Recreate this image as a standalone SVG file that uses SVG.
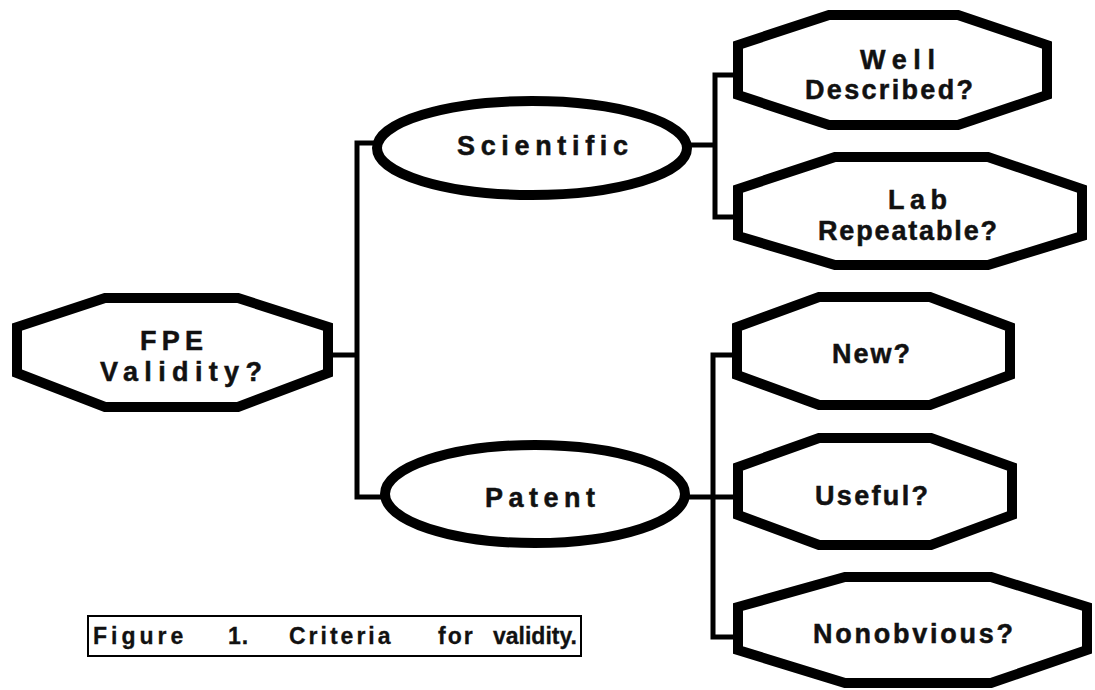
<svg xmlns="http://www.w3.org/2000/svg" width="1095" height="690" viewBox="0 0 1095 690">
<style>
.shape{fill:#fff;stroke:#000;stroke-width:10;stroke-linejoin:miter}
.t{font-family:"Liberation Sans",Arial,sans-serif;font-weight:bold;font-size:27px;fill:#111;stroke:#111;stroke-width:0.5}
.c{stroke:#000;stroke-width:5;fill:none}
.cap{font-family:"Liberation Sans",Arial,sans-serif;font-weight:bold;font-size:23px;fill:#111;stroke:#111;stroke-width:0.3}
</style>
<rect width="1095" height="690" fill="#fff"/>
<g id="connectors">
<line class="c" x1="333" y1="355" x2="359" y2="355" stroke-width="6"/>
<polyline class="c" points="380,143 357,143 357,497 385,497"/>
<line class="c" x1="687" y1="145" x2="715" y2="145"/>
<polyline class="c" points="740,75 715,75 715,217 740,217"/>
<line class="c" x1="687" y1="497" x2="740" y2="497"/>
<polyline class="c" points="740,355 713,355 713,637 740,637"/>
</g>
<g id="fpe">
<polygon class="shape" points="105,298 238,298 328,327 328,373 238,407 105,407 17,373 17,327"/>
<text class="t" x="140" y="350" textLength="63" lengthAdjust="spacing">FPE</text>
<text class="t" x="100" y="381" textLength="162" lengthAdjust="spacing">Validity?</text>
</g>
<g id="scientific">
<ellipse class="shape" cx="532" cy="148" rx="155" ry="47"/>
<text class="t" x="457" y="155" textLength="171" lengthAdjust="spacing">Scientific</text>
</g>
<g id="patent">
<ellipse class="shape" cx="535" cy="494" rx="150" ry="49"/>
<text class="t" x="485" y="507" textLength="110" lengthAdjust="spacing">Patent</text>
</g>
<g id="well-described">
<polygon class="shape" points="829,15 958,15 1047,45 1047,95 958,125 829,125 738,95 738,45"/>
<text class="t" x="860" y="69" textLength="75" lengthAdjust="spacing">Well</text>
<text class="t" x="805" y="99" textLength="168" lengthAdjust="spacing">Described?</text>
</g>
<g id="lab-repeatable">
<polygon class="shape" points="835,157 988,157 1082,189 1082,236 988,265 835,265 738,236 738,189"/>
<text class="t" x="888" y="209" textLength="59" lengthAdjust="spacing">Lab</text>
<text class="t" x="818" y="240" textLength="179" lengthAdjust="spacing">Repeatable?</text>
</g>
<g id="new">
<polygon class="shape" points="819,297 930,297 1010,327 1010,375 930,405 819,405 737,375 737,327"/>
<text class="t" x="832" y="363" textLength="78" lengthAdjust="spacing">New?</text>
</g>
<g id="useful">
<polygon class="shape" points="819,438 931,438 1012,467 1012,515 931,545 819,545 738,515 738,467"/>
<text class="t" x="815" y="505" textLength="113" lengthAdjust="spacing">Useful?</text>
</g>
<g id="nonobvious">
<polygon class="shape" points="845,577 991,577 1087,607 1087,650 991,683 845,683 738,650 738,607"/>
<text class="t" x="813" y="643" textLength="200" lengthAdjust="spacing">Nonobvious?</text>
</g>
<g id="caption">
<rect x="88" y="616" width="493" height="40" fill="none" stroke="#000" stroke-width="2"/>
<text class="cap" y="644"><tspan x="93" letter-spacing="4">Figure</tspan><tspan x="228" letter-spacing="1">1.</tspan><tspan x="289" letter-spacing="3">Criteria</tspan><tspan x="438" letter-spacing="2">for</tspan><tspan x="493" letter-spacing="0">validity.</tspan></text>
</g>
</svg>
